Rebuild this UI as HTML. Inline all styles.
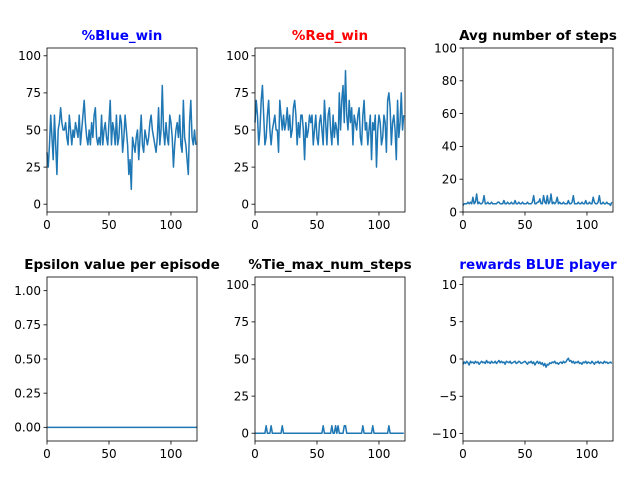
<!DOCTYPE html>
<html><head><meta charset="utf-8"><style>
html,body{margin:0;padding:0;background:#fff;}
svg text{font-family:"DejaVu Sans","Liberation Sans",sans-serif;}
</style></head><body>
<svg id="fig" width="640" height="480" viewBox="0 0 640 480" xmlns="http://www.w3.org/2000/svg"></svg>
<script>
const blueWin=[35,25,40,60,45,30,60,40,20,50,55,65,55,50,50,55,45,40,60,50,40,50,45,55,50,45,60,40,50,60,70,55,45,40,50,40,55,45,60,65,45,40,45,40,60,40,50,55,45,40,55,70,40,55,50,40,60,40,45,60,55,35,45,60,50,40,20,30,10,45,40,35,45,50,30,45,60,40,35,50,45,40,45,55,60,50,45,40,35,45,65,40,50,80,50,40,55,45,40,60,55,45,25,40,50,55,45,60,40,35,70,45,40,30,20,55,70,45,40,50,40];
const redWin=[55,70,60,40,50,70,80,60,40,45,60,70,50,40,50,55,60,50,50,35,70,60,50,60,50,55,65,50,60,45,50,65,70,60,40,55,45,60,60,50,30,55,45,50,60,55,60,40,50,60,45,40,55,60,50,40,70,55,40,60,65,50,40,60,45,55,50,40,75,50,70,80,55,90,60,50,70,55,65,40,60,55,50,60,65,45,40,60,70,50,55,40,50,60,30,55,50,60,25,50,60,55,40,45,60,55,35,70,75,65,40,55,60,50,30,70,45,55,75,50,60];
const avgSteps=[4,5,5,5,6,5,6,5,9,5,6,11,5,6,5,5,6,10,5,5,6,5,5,6,5,5,5,5,6,6,5,5,5,7,5,5,6,5,5,6,5,5,7,5,5,6,5,5,6,5,5,5,6,5,5,5,6,10,5,5,6,6,8,5,5,10,6,5,10,5,6,11,5,6,5,6,9,5,6,5,5,6,5,5,5,7,5,5,6,10,5,5,5,6,5,5,6,5,5,7,5,5,6,5,5,9,6,5,5,6,10,5,5,6,5,5,6,5,5,4,6];
const epsilon=[0,0];
const epsilonX=[0,121];
const tieSteps=[0,0,0,0,0,0,0,0,0,5,0,0,0,5,0,0,0,0,0,0,0,0,5,0,0,0,0,0,0,0,0,0,0,0,0,0,0,0,0,0,0,0,0,0,0,0,0,0,0,0,0,0,0,0,0,5,0,0,0,0,0,0,5,0,0,5,0,5,0,0,0,0,5,5,0,0,0,0,0,0,0,0,0,0,0,0,0,5,0,0,0,0,0,0,0,5,0,0,0,0,0,0,0,0,0,0,0,0,5,0,0,0,0,0,0,0,0,0,0,0,0];
const rewards=[-0.7,-0.4,-0.6,-0.3,-0.5,-0.8,-0.3,-0.5,-0.4,-0.6,-0.3,-0.5,-0.4,-0.7,-0.5,-0.3,-0.5,-0.4,-0.6,-0.2,-0.5,-0.4,-0.6,-0.3,-0.5,-0.5,-0.3,-0.6,-0.4,-0.2,-0.5,-0.3,-0.5,-0.4,-0.7,-0.3,-0.4,-0.5,-0.3,-0.6,-0.5,-0.4,-0.3,-0.6,-0.5,-0.3,-0.4,-0.6,-0.5,-0.4,-0.3,-0.5,-0.7,-0.4,-0.5,-0.3,-0.6,-0.4,-0.8,-0.5,-0.3,-0.6,-0.4,-0.7,-0.5,-0.9,-0.6,-1.1,-0.7,-0.8,-0.5,-0.6,-0.4,-0.5,-0.3,-0.6,-0.5,-0.7,-0.5,-0.4,-0.6,-0.3,-0.5,-0.4,-0.1,0.1,-0.3,-0.2,-0.5,-0.3,-0.6,-0.4,-0.5,-0.3,-0.6,-0.5,-0.7,-0.4,-0.5,-0.3,-0.6,-0.4,-0.5,-0.6,-0.3,-0.5,-0.7,-0.4,-0.5,-0.3,-0.6,-0.4,-0.5,-0.6,-0.3,-0.5,-0.4,-0.6,-0.5,-0.4,-0.6];
const xTicks=[0,50,100];

const svg=document.getElementById('fig');
const NS='http://www.w3.org/2000/svg';
function mk(tag,attrs,parent){const e=document.createElementNS(NS,tag);for(const k in attrs)e.setAttribute(k,attrs[k]);(parent||svg).appendChild(e);return e;}

const panels=[
 {name:'blue-win',title:'%Blue_win',color:'#0000ff',x0:47,y0:48,data:blueWin,ymin:-5.25,ymax:105.25,yt:[0,25,50,75,100],lab:v=>String(v)},
 {name:'red-win',title:'%Red_win',color:'#ff0000',x0:255,y0:48,data:redWin,ymin:-5.25,ymax:105.25,yt:[0,25,50,75,100],lab:v=>String(v)},
 {name:'avg-steps',title:'Avg number of steps',color:'#000',x0:463,y0:48,data:avgSteps,ymin:0,ymax:100,yt:[0,20,40,60,80,100],lab:v=>String(v)},
 {name:'epsilon',title:'Epsilon value per episode',color:'#000',x0:47,y0:277,data:epsilon,xs:epsilonX,ymin:-0.1,ymax:1.1,yt:[0,0.25,0.5,0.75,1],lab:v=>v.toFixed(2)},
 {name:'tie-max-steps',title:'%Tie_max_num_steps',color:'#000',x0:255,y0:277,data:tieSteps,ymin:-5.25,ymax:105.25,yt:[0,25,50,75,100],lab:v=>String(v)},
 {name:'rewards-blue',title:'rewards BLUE player',color:'#0000ff',x0:463,y0:277,data:rewards,ymin:-11,ymax:11,yt:[-10,-5,0,5,10],lab:v=>v<0?'\u2212'+(-v):String(v)},
];
const W=150,H=164,XMAX=121;
panels.forEach(p=>{
 const g=mk('g',{});
 
 
 const sx=v=>p.x0+v/XMAX*W;
 const sy=v=>p.y0+H-(v-p.ymin)/(p.ymax-p.ymin)*H;
 const t=mk('text',{x:p.x0+W/2,y:p.y0-8,'text-anchor':'middle','font-size':'13.5','font-weight':'bold',fill:p.color},g);
 t.textContent=p.title;
 
 
 const pts=p.data.map((v,i)=>(p.xs?sx(p.xs[i]):sx(i)).toFixed(2)+','+sy(v).toFixed(2)).join(' ');
 const line=mk('polyline',{points:pts,fill:'none',stroke:'#1f77b4','stroke-width':'1.5','stroke-linejoin':'round'},g);
 
 
 const fr=mk('rect',{x:p.x0,y:p.y0,width:W,height:H,fill:'none',stroke:'#000','stroke-width':'0.8'},g);
 
 
 xTicks.forEach(v=>{
  mk('line',{x1:sx(v),x2:sx(v),y1:p.y0+H,y2:p.y0+H+3.5,stroke:'#000','stroke-width':'0.8'},g);
  const l=mk('text',{x:sx(v),y:p.y0+H+17,'text-anchor':'middle','font-size':'12',fill:'#000'},g);
  l.textContent=v;
  
  
 });
 p.yt.forEach(v=>{
  mk('line',{x1:p.x0-3.5,x2:p.x0,y1:sy(v),y2:sy(v),stroke:'#000','stroke-width':'0.8'},g);
  const l=mk('text',{x:p.x0-6,y:sy(v)+4.3,'text-anchor':'end','font-size':'12',fill:'#000'},g);
  l.textContent=p.lab(v);
  
  
 });
});
</script>
</body></html>
